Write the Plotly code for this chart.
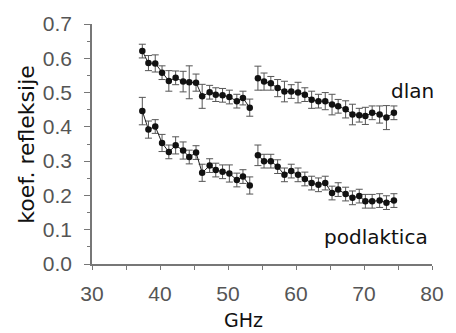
import plotly.graph_objects as go

# dlan (hand) - two segments
dlan_f1 = [37.4, 38.3, 39.3, 40.3, 41.3, 42.3, 43.4, 44.3, 45.3, 46.2, 47.3, 48.2, 49.2, 50.2, 51.3, 52.2, 53.2]
dlan_v1 = [0.621, 0.586, 0.585, 0.558, 0.534, 0.543, 0.532, 0.530, 0.529, 0.489, 0.501, 0.494, 0.492, 0.487, 0.475, 0.484, 0.456]
dlan_e1 = [0.020, 0.022, 0.025, 0.020, 0.030, 0.020, 0.030, 0.048, 0.025, 0.035, 0.020, 0.020, 0.020, 0.020, 0.020, 0.020, 0.025]
dlan_f2 = [54.4, 55.3, 56.3, 57.3, 58.3, 59.3, 60.3, 61.3, 62.3, 63.3, 64.3, 65.3, 66.2, 67.3, 68.3, 69.3, 70.2, 71.2, 72.3, 73.3, 74.4]
dlan_v2 = [0.542, 0.532, 0.527, 0.513, 0.503, 0.503, 0.500, 0.494, 0.479, 0.475, 0.475, 0.465, 0.460, 0.451, 0.436, 0.434, 0.432, 0.441, 0.436, 0.427, 0.441]
dlan_e2 = [0.035, 0.025, 0.020, 0.025, 0.030, 0.020, 0.030, 0.020, 0.025, 0.020, 0.025, 0.030, 0.020, 0.025, 0.030, 0.020, 0.025, 0.020, 0.025, 0.035, 0.020]

# podlaktica (forearm) - two segments
pod_f1 = [37.4, 38.3, 39.3, 40.3, 41.3, 42.3, 43.4, 44.3, 45.3, 46.2, 47.3, 48.2, 49.2, 50.2, 51.3, 52.2, 53.2]
pod_v1 = [0.446, 0.392, 0.401, 0.353, 0.327, 0.346, 0.331, 0.312, 0.325, 0.266, 0.287, 0.274, 0.269, 0.264, 0.245, 0.255, 0.229]
pod_e1 = [0.040, 0.025, 0.020, 0.025, 0.020, 0.025, 0.025, 0.020, 0.020, 0.025, 0.020, 0.020, 0.020, 0.025, 0.020, 0.020, 0.025]
pod_f2 = [54.4, 55.3, 56.3, 57.3, 58.3, 59.3, 60.3, 61.3, 62.3, 63.3, 64.3, 65.3, 66.2, 67.3, 68.3, 69.3, 70.2, 71.2, 72.3, 73.3, 74.4]
pod_v2 = [0.317, 0.300, 0.300, 0.284, 0.260, 0.271, 0.260, 0.248, 0.236, 0.231, 0.236, 0.207, 0.217, 0.204, 0.193, 0.198, 0.183, 0.183, 0.185, 0.179, 0.185]
pod_e2 = [0.030, 0.020, 0.020, 0.020, 0.020, 0.020, 0.020, 0.020, 0.020, 0.020, 0.020, 0.020, 0.020, 0.020, 0.020, 0.020, 0.020, 0.020, 0.020, 0.020, 0.020]

x_ticks = [30, 40, 50, 60, 70, 80]
y_ticks = [0.0, 0.1, 0.2, 0.3, 0.4, 0.5, 0.6, 0.7]

fig = go.Figure()

def add_series(f, v, e):
    fig.add_trace(go.Scatter(
        x=f, y=v, mode="lines+markers",
        line=dict(color="#222222", width=1),
        marker=dict(color="#111111", size=6.5),
        error_y=dict(type="data", array=e, color="#555555", thickness=1, width=3.5),
        showlegend=False, cliponaxis=False,
    ))

add_series(dlan_f1, dlan_v1, dlan_e1)
add_series(dlan_f2, dlan_v2, dlan_e2)
add_series(pod_f1, pod_v1, pod_e1)
add_series(pod_f2, pod_v2, pod_e2)

tickfont = dict(family="Liberation Sans, Arial", size=21, color="#555555")
labfont = dict(family="DejaVu Sans", size=20, color="#111111")

fig.update_layout(
    width=456, height=333,
    margin=dict(l=92, r=16, t=20, b=69),
    paper_bgcolor="white", plot_bgcolor="white",
    xaxis=dict(
        range=[30, 80], tickvals=x_ticks, ticktext=[str(t) for t in x_ticks],
        showgrid=False, zeroline=False, showline=True, linecolor="#777777", linewidth=1.5,
        ticks="outside", ticklen=4, tickcolor="#777777",
        minor=dict(dtick=5, ticks="outside", ticklen=4, tickcolor="#777777"),
        tickfont=tickfont, ticklabelstandoff=6,
    ),
    yaxis=dict(
        range=[0, 0.7], tickvals=y_ticks, ticktext=["%.1f" % t for t in y_ticks],
        showgrid=False, zeroline=False, showline=True, linecolor="#777777", linewidth=1.5,
        ticks="outside", ticklen=6, tickcolor="#777777",
        minor=dict(dtick=0.05, ticks="outside", ticklen=3, tickcolor="#777777"),
        tickfont=tickfont, ticklabelstandoff=8,
    ),
    annotations=[
        dict(x=77.2, y=0.504, xref="x", yref="y", text="dlan", showarrow=False,
             xanchor="center", yanchor="middle", font=labfont),
        dict(x=71.7, y=0.08, xref="x", yref="y", text="podlaktica", showarrow=False,
             xanchor="center", yanchor="middle", font=labfont),
        dict(x=52.3, y=0, xref="x", yref="paper", text="GHz", showarrow=False,
             xanchor="center", yanchor="bottom", yshift=-69, font=dict(family="DejaVu Sans", size=19, color="#111111")),
        dict(x=-0.195, y=0.5, xref="paper", yref="paper", text="koef. refleksije", showarrow=False,
             textangle=-90, xanchor="center", yanchor="middle",
             font=dict(family="DejaVu Sans", size=22, color="#111111")),
    ],
)

fig.write_html("out.html")
